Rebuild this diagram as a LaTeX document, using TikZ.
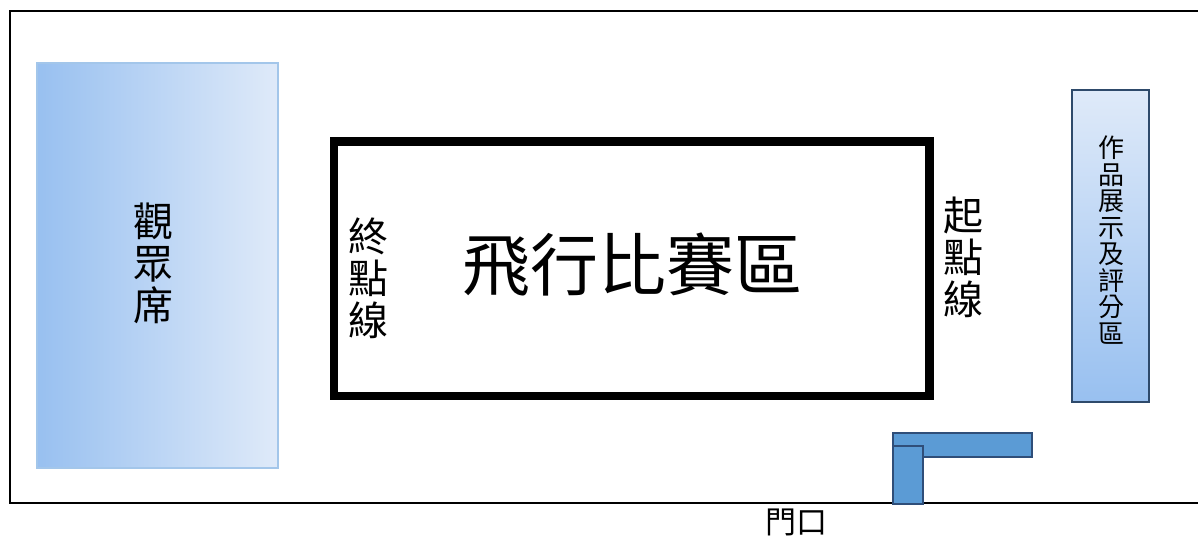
\documentclass[tikz,border=0pt]{standalone}
\usepackage{fontspec}
\newfontfamily\cjk{Noto Sans CJK TC}
\definecolor{seatL}{HTML}{98C0F0}
\definecolor{seatR}{HTML}{DFEAF9}
\definecolor{seatB}{HTML}{A3C6EA}
\definecolor{exB}{HTML}{2E4A6B}
\definecolor{doorF}{HTML}{5B9BD5}
\definecolor{doorB}{HTML}{2F4E79}
\tikzset{
  zone/.style={rectangle, inner sep=0pt, align=center},
  vtext/.style={inner sep=0pt, align=center},
}
\begin{document}
\begin{tikzpicture}[x=1pt,y=-1pt]
\useasboundingbox (0,0) rectangle (1198,540);
\begin{scope}
\clip (0,0) rectangle (1198,540);
% outer hall
\draw[line width=2.5pt] (1210,11) -- (10,11) -- (10,503) -- (1210,503);
\end{scope}
% audience seating
\node[zone, draw=seatB, line width=2pt, left color=seatL, right color=seatR,
      minimum width=241pt, minimum height=405pt] (seats) at (157.5,265.5) {};
\node[vtext, font=\cjk\fontsize{40}{42}\selectfont] (seatsT) at (153,263) {觀\\眾\\席};
% flight area
\node[zone, draw=black, line width=8.5pt, minimum width=595.5pt, minimum height=254.5pt] (field) at (631.75,268.75) {};
\node[vtext, font=\cjk\fontsize{68}{68}\selectfont] (fieldT) at (632,265) {飛行比賽區};
\node[vtext, font=\cjk\fontsize{40}{42}\selectfont] (finish) at (368,278) {終\\點\\線};
\node[vtext, font=\cjk\fontsize{40}{42}\selectfont] (start) at (963,257) {起\\點\\線};
% exhibition area
\node[zone, draw=exB, line width=2.5pt, top color=seatR, bottom color=seatL,
      minimum width=77pt, minimum height=312pt] (exhibit) at (1110.5,246) {};
\node[vtext, font=\cjk\fontsize{26}{26.5}\selectfont] (exhibitT) at (1111,240) {作\\品\\展\\示\\及\\評\\分\\區};
% door
\node[zone, draw=doorB, fill=doorF, line width=2pt, minimum width=139pt, minimum height=24pt] (doorH) at (962.5,445) {};
\node[zone, draw=doorB, fill=doorF, line width=2pt, minimum width=30pt, minimum height=58pt] (doorV) at (908,475) {};
\node[vtext, font=\cjk\fontsize{31}{31}\selectfont] (doorT) at (796,522) {門口};
\end{tikzpicture}
\end{document}
